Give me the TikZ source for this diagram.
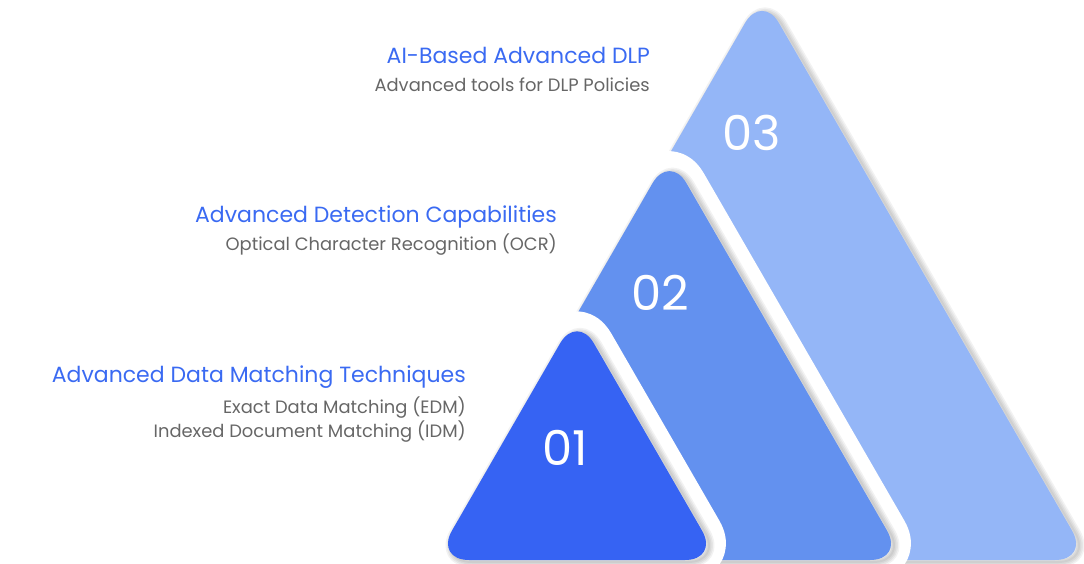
\documentclass[tikz,border=0pt]{standalone}
\usepackage{fontspec}
\setmainfont{Poppins}
\usetikzlibrary{positioning}
\definecolor{blueone}{RGB}{54,99,243}
\definecolor{bluetwo}{RGB}{99,145,239}
\definecolor{bluethree}{RGB}{148,182,247}
\definecolor{headblue}{RGB}{58,106,242}
\definecolor{subgray}{RGB}{102,102,102}
\tikzset{every node/.style={inner sep=0pt}}

% one rounded triangle, all share the bottom left corner
\newcommand{\tripath}[1]{(435,560) -- ++(#1,0) -- ++(-#1/2,-0.866*#1) -- cycle}

\begin{document}
\begin{tikzpicture}[
  x=1pt, y=-1pt,
  corner/.style={rounded corners=34pt},
  halo/.style={corner, draw=white, line width=40pt, line join=round},
  shade/.style={corner, draw=black, opacity=0.05, line join=round, shift={(3,2)}},
  title/.style={anchor=base east, text=headblue, font=\fontsize{22}{26}\selectfont},
  subtitle/.style={anchor=base east, text=subgray, font=\fontsize{17.9}{21}\selectfont},
  number/.style={text=white, font=\fontsize{48}{50}\selectfont}
]
\useasboundingbox (0,0) rectangle (1084,563);

% third (back) triangle
\foreach \w in {2,5,8,11} \draw[shade, line width=\w pt] \tripath{654};
\fill[corner, bluethree] \tripath{654};

% second triangle
\draw[halo] \tripath{469};
\foreach \w in {2,5,8,11} \draw[shade, line width=\w pt] \tripath{469};
\fill[corner, bluetwo] \tripath{469};

% first (front) triangle
\draw[halo] \tripath{284};
\foreach \w in {2,5,8,11} \draw[shade, line width=\w pt] \tripath{284};
\fill[corner, blueone] \tripath{284};

\path (752,133) node[number] (n3) {03};
\path (660,293) node[number] (n2) {02};
\path (565,448) node[number] (n1) {01};

% labels on the left
\path (650,63) node[title] (h3) {AI-Based Advanced DLP};
\path (650,91) node[subtitle] (s3) {Advanced tools for DLP Policies};

\path (557,222) node[title] (h2) {Advanced Detection Capabilities};
\path (557,250) node[subtitle] (s2) {Optical Character Recognition (OCR)};

\path (466,382) node[title] (h1) {Advanced Data Matching Techniques};
\path (466,413) node[subtitle] (s1a) {Exact Data Matching (EDM)};
\path (466,437) node[subtitle] (s1b) {Indexed Document Matching (IDM)};
\end{tikzpicture}
\end{document}
